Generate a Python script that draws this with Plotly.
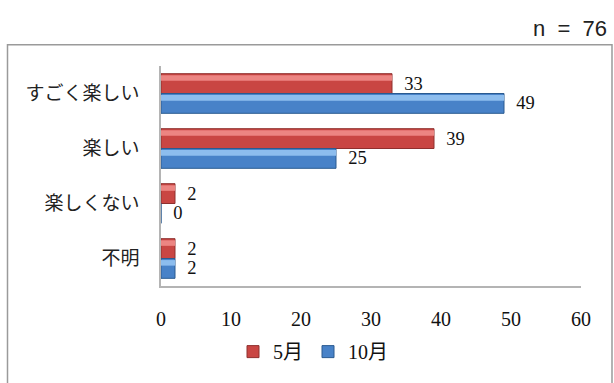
import plotly.graph_objects as go

categories = ["すごく楽しい", "楽しい", "楽しくない", "不明"]
may_values = [33, 39, 2, 2]
oct_values = [49, 25, 0, 2]
series_names = ["5月", "10月"]
x_ticks = [0, 10, 20, 30, 40, 50, 60]
note_text = "n\u00a0\u00a0=\u00a0\u00a076"

W, H = 614, 383
ML, MR, MT, MB = 161, 33, 66, 89
PW, PH = W - ML - MR, H - MT - MB

def px_x(p):
    return (p - ML) / PW

def px_y(p):
    return (H - MB - p) / PH

serif = "'Liberation Serif', 'Noto Sans CJK JP'"
jp = "'Noto Sans CJK JP'"

BW = 0.36  # bar thickness in category units
series = [
    (series_names[0], may_values, -BW, "#C94643", "#8F302E", "#EC8582"),
    (series_names[1], oct_values, 0.0, "#4882C8", "#2A5A90", "#8DBDEE"),
]

fig = go.Figure()
for name, vals, off, col, edge, light in series:
    fig.add_trace(go.Bar(
        y=categories, x=vals, name=name, orientation="h",
        offset=off, width=BW,
        marker=dict(color=col, line=dict(color=edge, width=1)),
        text=vals, texttemplate="\u00a0\u00a0%{x}", textposition="outside",
        constraintext="none", cliponaxis=False,
        textfont=dict(family=serif, size=18.5, color="#111"),
    ))
for name, vals, off, col, edge, light in series:
    fig.add_trace(go.Bar(
        y=categories, x=vals, name=name, orientation="h",
        offset=off + BW * 0.08, width=BW * 0.28,
        marker=dict(color=light, line=dict(width=0)),
        showlegend=False, hoverinfo="skip",
    ))

fig.update_layout(
    width=W, height=H,
    margin=dict(l=ML, r=MR, t=MT, b=MB, pad=0),
    paper_bgcolor="white", plot_bgcolor="white",
    barmode="overlay",
    showlegend=True,
    uniformtext=dict(mode=False),
    legend=dict(orientation="h", x=px_x(313), xanchor="center",
                y=px_y(362), yanchor="middle",
                font=dict(family=serif, size=20, color="#111"),
                traceorder="normal"),
    xaxis=dict(range=[0, 60], tickvals=x_ticks, showgrid=False, zeroline=False,
               showline=True, linecolor="#B4B4B4", linewidth=1.5,
               ticks="", ticklabelstandoff=14,
               tickfont=dict(family=serif, size=20, color="#111")),
    yaxis=dict(autorange="reversed", showgrid=False, zeroline=False,
               showline=True, linecolor="#B4B4B4", linewidth=1.5,
               ticks="", ticklabelstandoff=16,
               tickfont=dict(family=jp, size=19, color="#222")),
    shapes=[dict(type="rect", xref="paper", yref="paper",
                 x0=px_x(7.5), x1=px_x(612), y0=px_y(44), y1=px_y(400),
                 line=dict(color="#9A9A9A", width=1.5), fillcolor="rgba(0,0,0,0)",
                 layer="below")],
    annotations=[dict(text=note_text, xref="paper", yref="paper",
                      x=px_x(609), y=px_y(27), xanchor="right", yanchor="middle",
                      showarrow=False,
                      font=dict(family="'Liberation Sans', Arial", size=22, color="#222"))],
)

fig.write_html("out.html")
